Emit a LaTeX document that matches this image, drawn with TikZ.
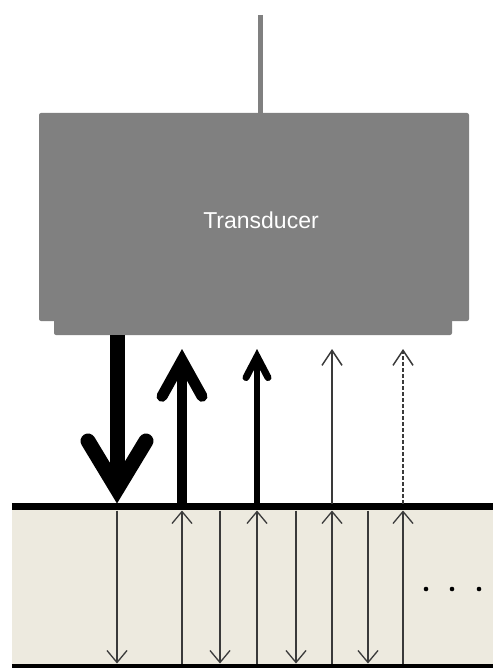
\documentclass[tikz,border=0pt]{standalone}
\usepackage{fontspec}
\setmainfont{Liberation Sans}
\usetikzlibrary{arrows.meta}
\definecolor{probe}{HTML}{808080}
\definecolor{tissue}{HTML}{EDEADF}
\definecolor{ray}{HTML}{3A3A3A}
\tikzset{
  probebox/.style={fill=probe, draw=none, rounded corners=2pt, inner sep=0pt},
  layer/.style={fill=tissue, draw=none, inner sep=0pt},
  ray/.style={draw=ray, line width=1.3pt},
  smallhead/.style={-{Straight Barb[length=12pt,width=20pt,line width=1.3pt,line join=miter]}},
  pulse1/.style={line width=15pt, -{Straight Barb[length=48pt,width=58pt,line width=15pt,line cap=round,line join=miter]}},
  echo1/.style={line width=10pt, -{Straight Barb[length=36pt,width=40pt,line width=11pt,line cap=round,line join=miter]}},
  echo2/.style={line width=6pt, -{Straight Barb[length=21pt,width=22pt,line width=7pt,line cap=round,line join=miter]}},
  echo3/.style={ray, line width=1.5pt, -{Straight Barb[length=15pt,width=20pt,line width=1.5pt,line join=miter]}},
}
\begin{document}
\begin{tikzpicture}[x=1pt,y=-1pt]
\useasboundingbox (0,0) rectangle (493,668);

% transducer housing, its front lip and the cable
\node[probebox, minimum width=430pt, minimum height=208pt] (body) at (254,217) {};
\node[probebox, minimum width=398pt, minimum height=16pt] (lip) at (253,327) {};
\node[text=white, font=\fontsize{23}{28}\selectfont] (label) at (261,220) {Transducer};
\coordinate (cable) at (260,15);
\draw[probe, line width=5pt] (cable) -- (cable |- body.north);

% layered medium
\node[layer, minimum width=481pt, minimum height=159pt] (medium) at (252.5,586.5) {};
\draw[line width=7pt] (medium.north west) -- (medium.north east);
\draw[line width=5pt] (medium.south west) -- (medium.south east);

% points on the surface, the floor and the lip
\foreach \n/\x in {a/117,b/182,c/257,d/332,e/403,f/220,g/296,h/368}{
  \coordinate (top\n) at (\x,503.5);
  \coordinate (in\n) at (\x,510.5);
  \coordinate (bot\n) at (\x,663.5);
  \coordinate (lip\n) at (\x,349);
}

% transmitted pulse and returning echoes above the surface
\draw[pulse1] (lip.south -| topa) -- (topa);
\draw[echo1] (topb) -- (lipb);
\draw[echo2] (topc) -- (lipc);
\draw[echo3] (topd) -- (lipd);
\draw[echo3, dashed, dash pattern=on 4pt off 2pt] (tope) -- (lipe);

% reverberations inside the medium
\foreach \n in {a,f,g,h}{
  \draw[ray, smallhead] (in\n) -- (bot\n);
}
\foreach \n in {b,c,d,e}{
  \draw[ray, smallhead] (bot\n) -- (in\n);
}

% continuation dots
\foreach \x [count=\i] in {426,452,479}{
  \fill (\x,589) circle (2.3pt) coordinate (dot\i);
}
\end{tikzpicture}
\end{document}
